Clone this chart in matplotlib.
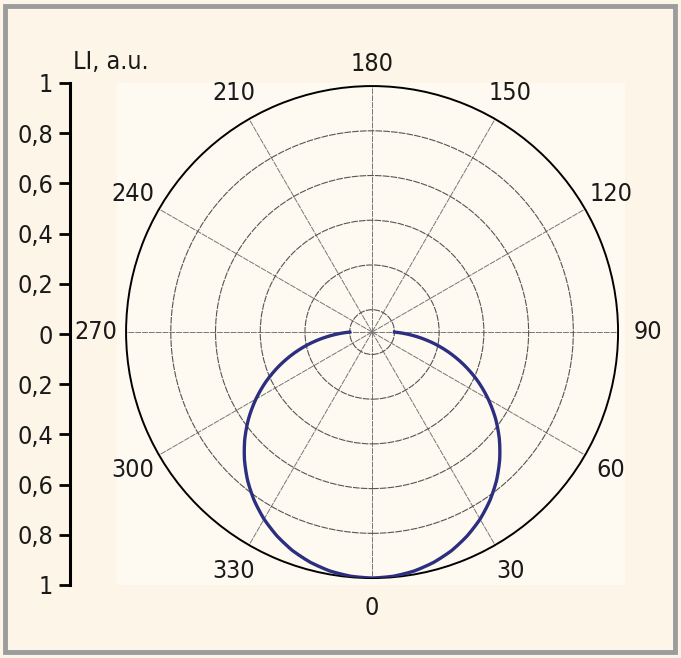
import numpy as np
import matplotlib.pyplot as plt
from matplotlib.patches import Rectangle
from matplotlib.ticker import FuncFormatter

plt.rcParams['font.family'] = ['DejaVu Sans']
plt.rcParams['font.stretch'] = 'condensed'

# angles (deg) and intensity
angle_deg = [-90, -85, -80, -75, -70, -65, -60, -55, -50, -45, -40, -35, -30, -25, -20, -15, -10, -5, 0,
             5, 10, 15, 20, 25, 30, 35, 40, 45, 50, 55, 60, 65, 70, 75, 80, 85, 90]
intensity = [0.0, 0.087, 0.174, 0.259, 0.342, 0.423, 0.5, 0.574, 0.643, 0.707, 0.766, 0.819, 0.866, 0.906,
             0.94, 0.966, 0.985, 0.996, 1.0,
             0.996, 0.985, 0.966, 0.94, 0.906, 0.866, 0.819, 0.766, 0.707, 0.643, 0.574, 0.5, 0.423,
             0.342, 0.259, 0.174, 0.087, 0.0]
theta_labels = [0, 30, 60, 90, 120, 150, 180, 210, 240, 270, 300, 330]
r_rings = [0, 0.2, 0.4, 0.6, 0.8]
left_ticks = [-1, -0.8, -0.6, -0.4, -0.2, 0, 0.2, 0.4, 0.6, 0.8, 1]

bg = '#fdf6e8'
fs = 18
fig = plt.figure(figsize=(6.81, 6.58), dpi=100, facecolor=bg)

# frame and lighter plot square
fig.patches.append(Rectangle((5 / 681, 6 / 658), 670 / 681, 646 / 658, transform=fig.transFigure,
                             fill=False, edgecolor='#9c9c9c', linewidth=3.5, zorder=-2))
fig.patches.append(Rectangle((117 / 681, 73 / 658), 508 / 681, 502 / 658, transform=fig.transFigure,
                             facecolor='#fefaf1', edgecolor='none', zorder=-1))

ax = fig.add_axes([0.1851, 0.1215, 0.7225, 0.7477], projection='polar')
ax.set_facecolor('none')
ax.set_theta_zero_location('S')
ax.set_theta_direction(1)
ax.set_rlim(-0.1, 1)
ax.set_rticks(r_rings)
ax.set_yticklabels([])
ax.set_xticks(np.deg2rad(theta_labels))
ax.set_xticklabels([])
ax.set_xticks(np.deg2rad(np.arange(15, 360, 30)), minor=True)
ax.tick_params(axis='x', which='both', direction='in', length=5, width=1, color='black')
ax.xaxis.grid(True, color='#777777', linewidth=0.7, linestyle=(0, (6, 1)))
ax.yaxis.grid(True, color='#555555', linewidth=0.8, linestyle=(0, (6, 1)))
ax.spines['polar'].set_linewidth(1.4)

for a in theta_labels:
    r_lab = 1.1 if a == 180 else 1.135
    ax.text(np.deg2rad(a), r_lab, str(a), ha='center', va='center', fontsize=fs, color='#1a1a1a')

line, = ax.plot(np.deg2rad(angle_deg), intensity, color='#2c2f80', linewidth=2.4, zorder=5)
line.get_path()._interpolation_steps = 20

# left intensity scale
lax = fig.add_axes([70 / 681, 73 / 658, 0.001, 502 / 658])
lax.set_facecolor('none')
for s in ['top', 'right', 'bottom']:
    lax.spines[s].set_visible(False)
lax.spines['left'].set_linewidth(2.2)
lax.set_xticks([])
lax.set_ylim(-1, 1)
lax.set_yticks(left_ticks)
lax.yaxis.set_major_formatter(FuncFormatter(lambda v, p: ('%g' % abs(v)).replace('.', ',')))
lax.tick_params(axis='y', length=8, width=2, labelsize=fs, pad=4, labelcolor='#1a1a1a')
fig.text(73 / 681, 1 - 62 / 658, 'LI, a.u.', ha='left', va='center', fontsize=fs, color='#1a1a1a')

fig.savefig('out.png', dpi=100, facecolor=bg)
